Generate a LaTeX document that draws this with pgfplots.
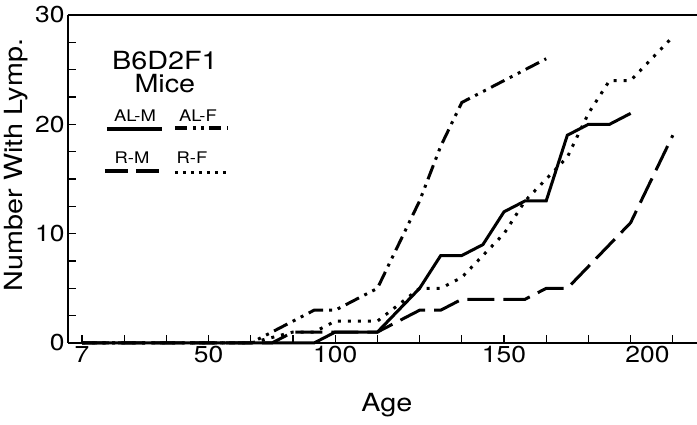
\documentclass[border=0pt]{standalone}
\usepackage{fontspec}
\setmainfont{TeX Gyre Heros}[FakeStretch=1.15]
\usepackage{pgfplots}
\pgfplotsset{compat=1.18}
\begin{document}
\begin{tikzpicture}
\begin{axis}[
  name=ax, at={(0,0)}, anchor=south west,
  scale only axis, width=629pt, height=328pt,
  xmin=-0.332, xmax=14.573, ymin=0, ymax=30,
  clip=false,
  axis lines=left,
  axis line style={-, line width=2.6pt},
  tick align=inside,
  xtick={0,3,6,10}, xticklabels={7,50,100,150},
  extra x ticks={13.4}, extra x tick labels={200},
  extra x tick style={major tick length=0pt},
  minor xtick={1,2,4,5,7,8,9,11,12,13,14},
  ytick={0,10,20,30},
  minor ytick={2.5,5,7.5,12.5,15,17.5,22.5,25,27.5},
  major tick length=8pt, minor tick length=8pt,
  every tick/.style={line width=1.2pt, black},
  tick label style={font=\fontsize{23}{27}\selectfont},
  /pgf/number format/assume math mode=true,
  xlabel={Age},
  ylabel={Number With Lymp.},
  label style={font=\fontsize{25}{30}\selectfont},
  xlabel style={at={(axis description cs:0.507,-0.21)}, anchor=base},
  ylabel style={at={(axis description cs:-0.083,0.543)}, anchor=center},
]
\addplot[black, line width=3pt] coordinates {
(0,0)(5.5,0)(6,1)(7,1)(8,5)(8.5,8)(9,8)(9.5,9)(10,12)(10.5,13)(11,13)(11.5,19)(12,20)(12.5,20)(13,21)};
\addplot[black, line width=3pt, dash pattern=on 15pt off 6pt on 3pt off 6pt on 3pt off 6pt] coordinates {
(0,0)(4,0)(5.5,3)(6,3)(7,5)(7.5,9)(8,13)(8.5,18)(9,22)(10,24)(11,26)};
\addplot[black, line width=3pt, dash pattern=on 27pt off 9pt] coordinates {
(0,0)(4.5,0)(5,1)(7,1)(8,3)(8.5,3)(9,4)(10.5,4)(11,5)(11.5,5)(13,11)(14,19)};
\addplot[black, line width=3pt, dash pattern=on 3pt off 7pt] coordinates {
(0,0)(4,0)(5,1)(5.5,1)(6,2)(7,2)(8,5)(8.5,5)(9,6)(10,10)(10.5,13)(11,15)(11.5,17)(12,21)(12.5,24)(13,24)(14,28)};
% top frame line
\draw[line width=2.6pt] (rel axis cs:0,1) -- (rel axis cs:1,1);
% legend
\node[anchor=north, inner sep=0pt, align=center, font=\fontsize{25}{23}\selectfont] at (axis description cs:0.154,0.889) {B6D2F1\\Mice};
\node[anchor=base, font=\fontsize{16}{20}\selectfont] at (axis description cs:0.1065,0.674) {AL-M};
\node[anchor=base, font=\fontsize{16}{20}\selectfont] at (axis description cs:0.2067,0.674) {AL-F};
\node[anchor=base, font=\fontsize{16}{20}\selectfont] at (axis description cs:0.1017,0.546) {R-M};
\node[anchor=base, font=\fontsize{16}{20}\selectfont] at (axis description cs:0.197,0.546) {R-F};
\draw[line width=4pt] (axis description cs:0.062,0.652) -- (axis description cs:0.149,0.652);
\draw[line width=4pt, dash pattern=on 12pt off 6pt on 3pt off 5pt on 3pt off 5pt] (axis description cs:0.170,0.655) -- (axis description cs:0.253,0.655);
\draw[line width=4pt, dash pattern=on 23pt off 8pt] (axis description cs:0.0588,0.524) -- (axis description cs:0.1447,0.524);
\draw[line width=3pt, dash pattern=on 3pt off 5pt] (axis description cs:0.170,0.521) -- (axis description cs:0.254,0.521);
\end{axis}
\pgfresetboundingbox
\useasboundingbox (-68pt,-82pt) rectangle (629pt,343pt);
\end{tikzpicture}
\end{document}
